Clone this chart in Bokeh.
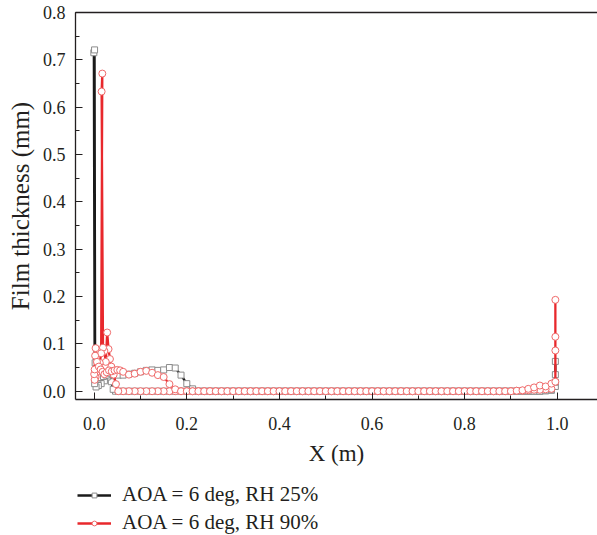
from bokeh.plotting import figure
from bokeh.layouts import column
from bokeh.models import (Range1d, LinearAxis, FixedTicker, Legend, LegendItem,
                          ColumnDataSource, SingleIntervalTicker, NumeralTickFormatter)
from bokeh.embed import file_html
from bokeh.resources import INLINE

# ---------------- data ----------------
# chordwise surface stations shared by both surfaces
x_stations = [
    0.0625, 0.075, 0.0875, 0.1, 0.1125, 0.125, 0.1375, 0.15, 0.1625, 0.175,
    0.1875, 0.2, 0.2125, 0.225, 0.2375, 0.25, 0.2625, 0.275, 0.2875, 0.3,
    0.3125, 0.325, 0.3375, 0.35, 0.3625, 0.375, 0.3875, 0.4, 0.4125, 0.425,
    0.4375, 0.45, 0.4625, 0.475, 0.4875, 0.5, 0.5125, 0.525, 0.5375, 0.55,
    0.5625, 0.575, 0.5875, 0.6, 0.6125, 0.625, 0.6375, 0.65, 0.6625, 0.675,
    0.6875, 0.7, 0.7125, 0.725, 0.7375, 0.75, 0.7625, 0.775, 0.7875, 0.8,
    0.8125, 0.825, 0.8375, 0.85, 0.8625, 0.875, 0.8875, 0.9, 0.9125, 0.925,
    0.9375, 0.95, 0.9625, 0.975, 0.9875,
]

# AOA = 6 deg, RH 25%
h_lower_25 = [
    0, 0, 0, 0, 0, 0, 0, 0, 0, 0,
    0, 0, 0, 0, 0, 0, 0, 0, 0, 0,
    0, 0, 0, 0, 0, 0, 0, 0, 0, 0,
    0, 0, 0, 0, 0, 0, 0, 0, 0, 0,
    0, 0, 0, 0, 0, 0, 0, 0, 0, 0,
    0, 0, 0, 0, 0, 0, 0, 0, 0, 0,
    0, 0, 0, 0, 0, 0, 0, 0, 0, 0,
    0, 0, 0, 0.001, 0.002,
]
h_upper_25 = [
    0.034, 0.036, 0.038, 0.041, 0.044, 0.045, 0.044, 0.045, 0.050, 0.049,
    0.034, 0.016, 0.005, 0, 0, 0, 0, 0, 0, 0,
    0, 0, 0, 0, 0, 0, 0, 0, 0, 0,
    0, 0, 0, 0, 0, 0, 0, 0, 0, 0,
    0, 0, 0, 0, 0, 0, 0, 0, 0, 0,
    0, 0, 0, 0, 0, 0, 0, 0, 0, 0,
    0, 0, 0, 0, 0, 0, 0, 0, 0, 0,
    0, 0, 0, 0.001, 0.003,
]
# leading edge region (path: lower surface -> leading edge -> upper surface)
x_le_25 = [0.052, 0.046, 0.041, 0.037, 0.033, 0.028, 0.022, 0.015, 0.009, 0.004,
           0.001, -0.0008, 0.0008, 0.002, 0.004, 0.008, 0.014, 0.020, 0.026, 0.031,
           0.036, 0.041, 0.046, 0.052]
h_le_25 = [0.0, 0.0, 0.004, 0.020, 0.036, 0.030, 0.022, 0.016, 0.012, 0.009,
           0.016, 0.715, 0.721, 0.060, 0.028, 0.026, 0.029, 0.031, 0.034, 0.038,
           0.041, 0.039, 0.036, 0.034]
# trailing edge
x_te_25 = [0.996, 0.996, 0.996, 0.996]
h_te_25 = [0.010, 0.019, 0.035, 0.063]

# AOA = 6 deg, RH 90%
h_lower_90 = [
    0, 0, 0, 0, 0, 0, 0, 0, 0, 0,
    0, 0, 0, 0, 0, 0, 0, 0, 0, 0,
    0, 0, 0, 0, 0, 0, 0, 0, 0, 0,
    0, 0, 0, 0, 0, 0, 0, 0, 0, 0,
    0, 0, 0, 0, 0, 0, 0, 0, 0, 0,
    0, 0, 0, 0, 0, 0, 0, 0, 0, 0,
    0, 0, 0, 0, 0, 0, 0, 0, 0.001, 0.001,
    0.002, 0.003, 0.003, 0.004, 0.005,
]
h_upper_90 = [
    0.041, 0.035, 0.037, 0.041, 0.043, 0.039, 0.034, 0.030, 0.015, 0.004,
    0, 0, 0, 0, 0, 0, 0, 0, 0, 0,
    0, 0, 0, 0, 0, 0, 0, 0, 0, 0,
    0, 0, 0, 0, 0, 0, 0, 0, 0, 0,
    0, 0, 0, 0, 0, 0, 0, 0, 0, 0,
    0, 0, 0, 0, 0, 0, 0, 0, 0, 0,
    0, 0, 0, 0, 0, 0, 0, 0, 0.001, 0.002,
    0.005, 0.008, 0.012, 0.010, 0.016,
]
x_le_90 = [0.052, 0.047, 0.042, 0.037, 0.034, 0.031, 0.028, 0.025, 0.022, 0.019,
           0.016, 0.0175, 0.015, 0.012, 0.009, 0.006, 0.003, 0.001, 0.0, 0.001,
           0.002, 0.003, 0.006, 0.010, 0.014, 0.018, 0.022, 0.027, 0.032, 0.038,
           0.044, 0.050, 0.056]
h_le_90 = [0.0, 0.015, 0.035, 0.052, 0.068, 0.089, 0.124, 0.062, 0.085, 0.092,
           0.633, 0.671, 0.080, 0.060, 0.050, 0.040, 0.030, 0.024, 0.036, 0.046,
           0.075, 0.091, 0.062, 0.052, 0.046, 0.041, 0.036, 0.040, 0.044, 0.042,
           0.044, 0.045, 0.044]
x_te_90 = [0.996, 0.996, 0.996, 0.996]
h_te_90 = [0.020, 0.086, 0.115, 0.193]

labels = ["AOA = 6 deg, RH 25%", "AOA = 6 deg, RH 90%"]
x_ticks_step = 0.2
y_ticks_step = 0.1


def build_path(h_lower, x_le, h_le, h_upper, x_te, h_te):
    xs = list(reversed(x_stations)) + x_le + x_stations + x_te
    ys = list(reversed(h_lower)) + h_le + h_upper + h_te
    return ColumnDataSource(dict(x=xs, y=ys))


src25 = build_path(h_lower_25, x_le_25, h_le_25, h_upper_25, x_te_25, h_te_25)
src90 = build_path(h_lower_90, x_le_90, h_le_90, h_upper_90, x_te_90, h_te_90)

FONT = "Liberation Serif"
TXT = "#231f20"
STYLE25 = dict(line=dict(line_color="#1a1a1a", line_width=2.3),
               marker=dict(marker="square", size=6, line_color="#8c8c8c",
                           fill_color="white", line_width=1))
STYLE90 = dict(line=dict(line_color="#e8282c", line_width=2.3),
               marker=dict(marker="circle", size=7, line_color="#f06a6a",
                           fill_color="white", line_width=1))


def draw(fig, src, style):
    ln = fig.line("x", "y", source=src, **style["line"])
    sc = fig.scatter("x", "y", source=src, **style["marker"])
    return ln, sc


# ---------------- main plot ----------------
p = figure(width=597, height=475,
           x_range=Range1d(-0.0404, 1.087), y_range=Range1d(-0.0175, 0.8),
           output_backend="svg", toolbar_location=None,
           min_border_left=75, min_border_right=0, min_border_top=12,
           min_border_bottom=76, background_fill_color="white",
           border_fill_color="white")
p.outline_line_color = None
p.xgrid.visible = False
p.ygrid.visible = False

draw(p, src25, STYLE25)
draw(p, src90, STYLE90)

for ax in (p.xaxis[0], p.yaxis[0]):
    ax.axis_line_color = TXT
    ax.axis_line_width = 1.3
    ax.major_tick_line_color = TXT
    ax.minor_tick_line_color = TXT
    ax.major_tick_in = 7
    ax.major_tick_out = 0
    ax.minor_tick_in = 4
    ax.minor_tick_out = 0
    ax.major_label_text_font = FONT
    ax.major_label_text_font_size = "18px"
    ax.major_label_text_color = TXT
    ax.axis_label_text_font = FONT
    ax.axis_label_text_font_style = "normal"
    ax.axis_label_text_color = TXT
    ax.formatter = NumeralTickFormatter(format="0.0")

p.xaxis[0].axis_label_text_font_size = "23px"
p.yaxis[0].axis_label_text_font_size = "25px"
p.xaxis[0].ticker = SingleIntervalTicker(interval=x_ticks_step, num_minor_ticks=2)
p.yaxis[0].ticker = SingleIntervalTicker(interval=y_ticks_step, num_minor_ticks=2)
p.xaxis[0].axis_label = "X (m)"
p.yaxis[0].axis_label = "Film thickness (mm)"
p.xaxis[0].major_label_standoff = 17
p.xaxis[0].axis_label_standoff = 8
p.yaxis[0].major_label_standoff = 10
p.yaxis[0].axis_label_standoff = 6

top = LinearAxis(ticker=FixedTicker(ticks=[]), axis_line_color=TXT,
                 axis_line_width=1.3, major_tick_in=0, major_tick_out=0,
                 minor_tick_in=0, minor_tick_out=0, major_label_standoff=0,
                 axis_label_standoff=0, major_label_text_font_size="0px")
p.add_layout(top, "above")

# ---------------- legend strip below the plot ----------------
lg = figure(width=597, height=60, x_range=Range1d(2, 3), y_range=Range1d(2, 3),
            output_backend="svg", toolbar_location=None,
            x_axis_type=None, y_axis_type=None,
            min_border_left=0, min_border_right=0, min_border_top=0,
            min_border_bottom=0, background_fill_color="white",
            border_fill_color="white")
lg.outline_line_color = None
lg.xgrid.visible = False
lg.ygrid.visible = False
r25 = draw(lg, src25, STYLE25)
r90 = draw(lg, src90, STYLE90)

legend = Legend(items=[LegendItem(label=labels[0], renderers=list(r25)),
                       LegendItem(label=labels[1], renderers=list(r90))],
                location=(2, 0), orientation="vertical",
                glyph_width=34, glyph_height=12, label_height=23,
                label_standoff=11, spacing=3, padding=0, margin=0,
                border_line_color=None, background_fill_alpha=0,
                label_text_font=FONT, label_text_font_size="21px",
                label_text_color=TXT)
lg.add_layout(legend, "center")

page = column(p, lg, spacing=0)
open("out.html", "w").write(file_html(page, INLINE))
